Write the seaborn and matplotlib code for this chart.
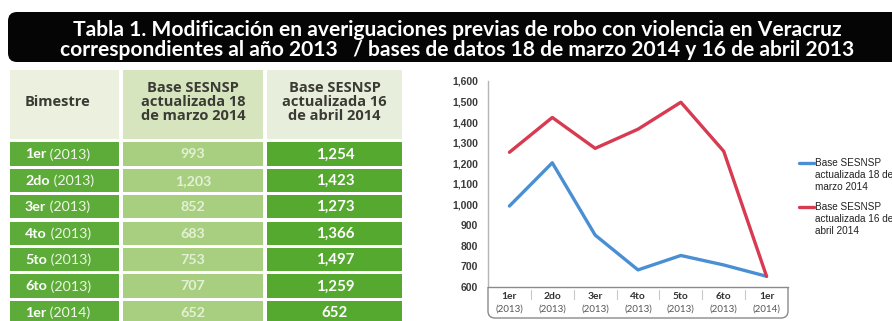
import matplotlib
matplotlib.use("Agg")
import matplotlib.pyplot as plt
import numpy as np
import pandas as pd
import seaborn as sns
from matplotlib.patches import FancyBboxPatch, Rectangle, PathPatch
from matplotlib.path import Path
from matplotlib.lines import Line2D

# ---- data -------------------------------------------------------------
bimestres = ["1er", "2do", "3er", "4to", "5to", "6to", "1er"]
anios = ["2013", "2013", "2013", "2013", "2013", "2013", "2014"]
base_marzo = [993, 1203, 852, 683, 753, 707, 652]
base_abril = [1254, 1423, 1273, 1366, 1497, 1259, 652]
serie_marzo = "Base SESNSP\nactualizada 18 de\nmarzo 2014"
serie_abril = "Base SESNSP\nactualizada 16 de\nabril 2014"
col_headers = ["Bimestre",
               "Base SESNSP\nactualizada 18\nde marzo 2014",
               "Base SESNSP\nactualizada 16\nde abril 2014"]
title_lines = [
    "Tabla 1. Modificación en averiguaciones previas de robo con violencia en Veracruz",
    "correspondientes al año 2013   / bases de datos 18 de marzo 2014 y 16 de abril 2013",
]
y_ticks = [600, 700, 800, 900, 1000, 1100, 1200, 1300, 1400, 1500, 1600]

BLUE = "#4a8fd4"
RED = "#d83a52"

sns.set_theme(style="white")
plt.rcParams["font.family"] = ["Lato", "DejaVu Sans"]

W, H = 892, 321
fig = plt.figure(figsize=(W / 100, H / 100), dpi=100)
fig.patch.set_facecolor("white")

# full-figure pixel canvas for the banner and the table
bg = fig.add_axes([0, 0, 1, 1], zorder=0)
bg.set_xlim(0, W)
bg.set_ylim(H, 0)
bg.axis("off")

# ---- title banner -------------------------------------------------------
bg.add_patch(FancyBboxPatch((8, 12), 900, 50,
                            boxstyle="round,pad=0,rounding_size=9",
                            facecolor="#050505", edgecolor="none"))
t1 = bg.text(457, 30, title_lines[0], ha="center", va="center",
             color="white", fontweight="bold", fontsize=13)
t2 = bg.text(457, 50, title_lines[1], ha="center", va="center",
             color="white", fontweight="bold", fontsize=13)
fig.canvas.draw()
rend = fig.canvas.get_renderer()
scale = 791 / t2.get_window_extent(rend).width
for t in (t1, t2):
    t.set_fontsize(13 * scale)

# ---- table ----------------------------------------------------------------
cols = [(10, 119), (123, 263), (267, 402)]
head_top, head_bot = 70, 139
head_fill = ["#ebf0df", "#d6e5be", "#e7eedb"]
head_font = dict(color="#3b3b35", fontweight="bold", fontsize=10.5,
                 family=["Open Sans", "DejaVu Sans"])
for k, ((x0, x1), fc, txt) in enumerate(zip(cols, head_fill, col_headers)):
    bg.add_patch(Rectangle((x0, head_top), x1 - x0, head_bot - head_top,
                           facecolor=fc, edgecolor="none"))
    if k == 0:
        bg.text(25, 102, txt, ha="left", va="center", **head_font)
    else:
        bg.text((x0 + x1) / 2, 102, txt, ha="center", va="center",
                linespacing=0.98, **head_font)

row_top0, row_pitch, row_h = 142.3, 26.4, 23.2
cell_fill = ["#5dab38", "#a8cf80", "#56a92f"]
for i, (b, a, vm, va_) in enumerate(zip(bimestres, anios, base_marzo, base_abril)):
    y0 = row_top0 + i * row_pitch
    for (x0, x1), fc in zip(cols, cell_fill):
        bg.add_patch(Rectangle((x0, y0), x1 - x0, row_h,
                               facecolor=fc, edgecolor="none"))
    yc = y0 + row_h / 2 + 0.5
    tb = bg.text(25, yc, b, ha="left", va="center", color="white",
                 fontweight="bold", fontsize=10.3)
    bg.annotate(f" ({a})", xycoords=tb, xy=(1, 0.5), ha="left", va="center",
                color="#eef6e6", fontsize=10.3)
    bg.text(193, yc, f"{vm:,}", ha="center", va="center", color="#eef6e4",
            fontweight="bold", fontsize=10.3, alpha=0.85)
    bg.text(335, yc, f"{va_:,}", ha="center", va="center", color="white",
            fontweight="bold", fontsize=10.8)

# ---- line chart -------------------------------------------------------------
ax_l, ax_r, ax_t, ax_b = 488, 788, 81, 287
ax = fig.add_axes([ax_l / W, 1 - ax_b / H, (ax_r - ax_l) / W, (ax_b - ax_t) / H],
                  zorder=2)
ax.patch.set_alpha(0)

pos = list(range(len(bimestres)))
df = pd.DataFrame({
    "pos": pos * 2,
    "valor": base_marzo + base_abril,
    "serie": [serie_marzo] * len(pos) + [serie_abril] * len(pos),
})
sns.lineplot(data=df, x="pos", y="valor", hue="serie",
             palette={serie_marzo: BLUE, serie_abril: RED},
             linewidth=2.4, legend=False, ax=ax, sort=False)

ax.set_xlim(-0.5, len(pos) - 0.5)
ax.set_ylim(600, 1600)
ax.set_yticks(y_ticks)
ax.set_yticklabels([f"{v:,}" for v in y_ticks], fontsize=7.5,
                   fontweight="bold", color="#3a3a3a", family="Liberation Sans")
ax.set_xticks(pos)
ax.set_xticklabels([])
ax.tick_params(axis="both", length=0, pad=7)
ax.set_xlabel("")
ax.set_ylabel("")
for side in ("top", "right"):
    ax.spines[side].set_visible(False)
ax.spines["left"].set_color("#b5b5b5")
ax.spines["left"].set_linewidth(1.0)
ax.spines["bottom"].set_color("#8a8a8a")
ax.spines["bottom"].set_linewidth(1.0)

# category labels inside a rounded tray under the axis
trans = ax.get_xaxis_transform()
for i, (b, a) in enumerate(zip(bimestres, anios)):
    ax.text(i, -0.045, b, transform=trans, ha="center", va="center",
            fontsize=7.4, fontweight="bold", color="#333333", clip_on=False)
    ax.text(i, -0.105, f"({a})", transform=trans, ha="center", va="center",
            fontsize=7, color="#555555", clip_on=False)
for i in range(len(pos) - 1):
    ax.add_line(Line2D([i + 0.5, i + 0.5], [-0.015, -0.06], transform=trans,
                       color="#c8c8c8", lw=0.8, clip_on=False))

r = 7
verts = [(ax_l, ax_b), (ax_l, 318 - r), (ax_l, 318), (ax_l + r, 318),
         (ax_r - r, 318), (ax_r, 318), (ax_r, 318 - r), (ax_r, ax_b)]
codes = [Path.MOVETO, Path.LINETO, Path.CURVE3, Path.CURVE3,
         Path.LINETO, Path.CURVE3, Path.CURVE3, Path.LINETO]
bg.add_patch(PathPatch(Path(verts, codes), facecolor="none",
                       edgecolor="#8a8a8a", lw=1.0))

# ---- legend ---------------------------------------------------------------------
for color, label, ytop in ((BLUE, serie_marzo, 163), (RED, serie_abril, 207)):
    bg.add_line(Line2D([799, 814], [ytop, ytop], color=color, lw=2.4))
    bg.text(815, ytop - 5.5, label, ha="left", va="top", fontsize=7.2,
            color="#222222", family="Liberation Sans", linespacing=1.25)

fig.savefig("out.png", dpi=100, facecolor="white")
